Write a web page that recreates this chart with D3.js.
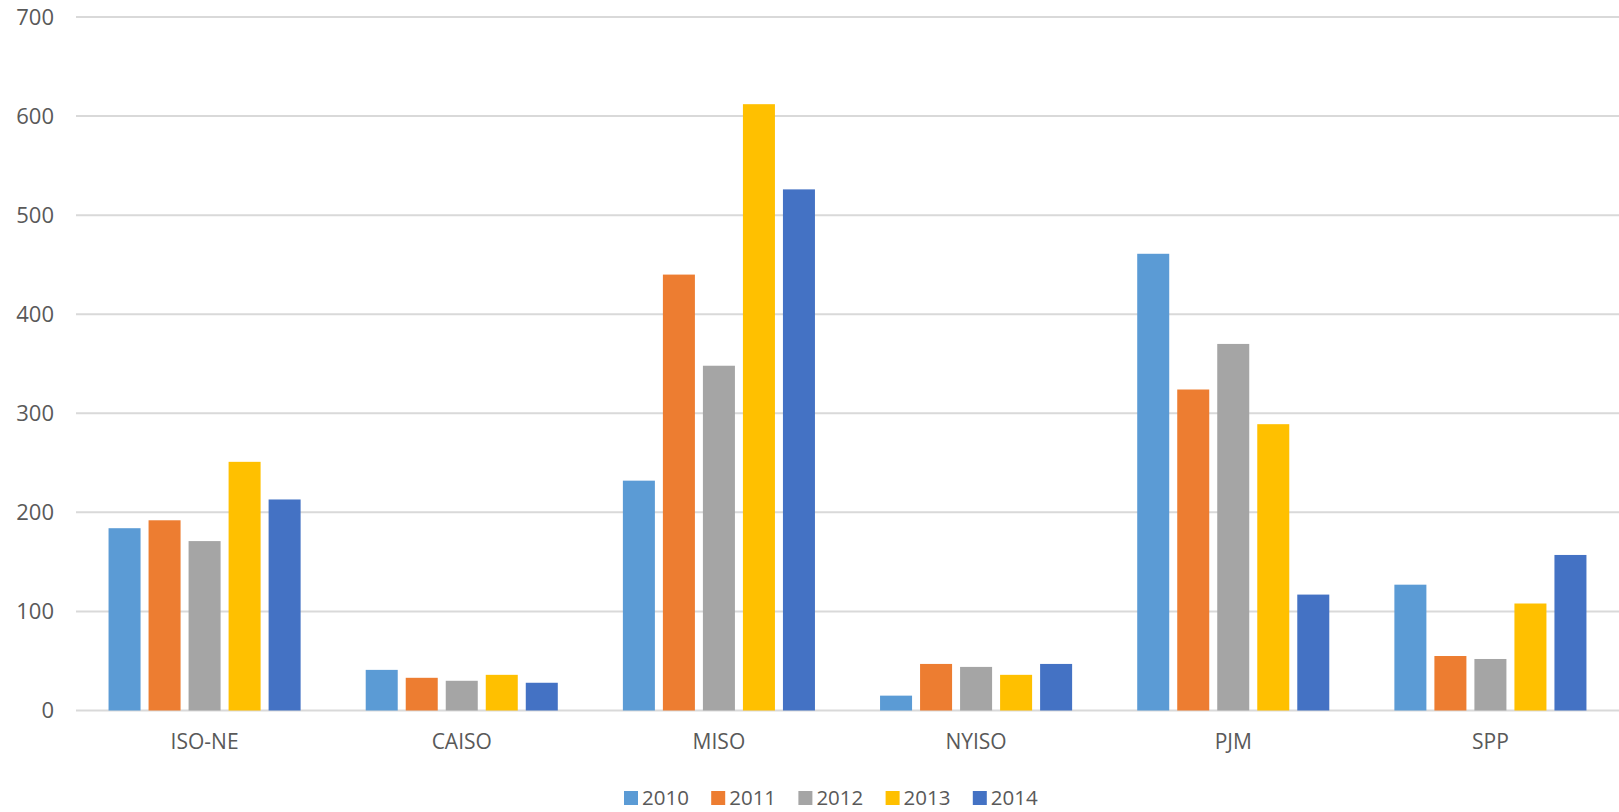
<!DOCTYPE html>
<html>
<head>
<meta charset="utf-8">
<script src="https://cdn.jsdelivr.net/npm/d3@7"></script>
<style>
  body { margin: 0; background: #fff; }
  text { font-family: "Open Sans", sans-serif; fill: #595959; }
</style>
</head>
<body>
<div id="chart"></div>
<script>
// Catégories et séries
const regions = ['ISO-NE', 'CAISO', 'MISO', 'NYISO', 'PJM', 'SPP'];
const years = ['2010', '2011', '2012', '2013', '2014'];
const values2010 = [184, 41, 232, 15, 461, 127];
const values2011 = [192, 33, 440, 47, 324, 55];
const values2012 = [171, 30, 348, 44, 370, 52];
const values2013 = [251, 36, 612, 36, 289, 108];
const values2014 = [213, 28, 526, 47, 117, 157];
const yTicks = [0, 100, 200, 300, 400, 500, 600, 700];
const colors = ['#5B9BD5', '#ED7D31', '#A5A5A5', '#FFC000', '#4472C4'];

const series = [values2010, values2011, values2012, values2013, values2014];
const data = regions.map((r, i) => ({
    region: r,
    vals: years.map((y, j) => ({ year: y, value: series[j][i] }))
}));

const width = 1619;
const height = 812;

const svg = d3.select('#chart')
    .append('svg')
    .attr('width', width)
    .attr('height', height);

const plotLeft = 76, plotRight = 1619, plotTop = 17, plotBottom = 710.5;

const y = d3.scaleLinear().domain([0, 700]).range([plotBottom, plotTop]);

const x0 = d3.scaleBand()
    .domain(regions)
    .range([plotLeft, plotRight])
    .paddingInner(0.222)
    .paddingOuter(0.111);

const x1 = d3.scaleBand()
    .domain(years)
    .range([0, x0.bandwidth()])
    .paddingInner(0.2)
    .paddingOuter(0.1);

const color = d3.scaleOrdinal().domain(years).range(colors);

// Lignes de la grille
svg.append('g')
    .selectAll('line')
    .data(yTicks)
    .enter().append('line')
    .attr('x1', plotLeft)
    .attr('x2', plotRight)
    .attr('y1', d => y(d))
    .attr('y2', d => y(d))
    .attr('stroke', '#d9d9d9')
    .attr('stroke-width', 2);

// Étiquettes de l'axe Y
svg.append('g')
    .selectAll('text')
    .data(yTicks)
    .enter().append('text')
    .attr('x', 54)
    .attr('y', d => y(d))
    .attr('dy', '0.35em')
    .attr('text-anchor', 'end')
    .style('font-size', '22px')
    .text(d => d);

// Barres
svg.append('g')
    .selectAll('g')
    .data(data)
    .enter().append('g')
    .attr('transform', d => `translate(${x0(d.region)},0)`)
    .selectAll('rect')
    .data(d => d.vals)
    .enter().append('rect')
    .attr('x', d => x1(d.year))
    .attr('width', x1.bandwidth())
    .attr('y', d => y(d.value))
    .attr('height', d => y(0) - y(d.value))
    .attr('fill', d => color(d.year));

// Étiquettes des catégories
svg.append('g')
    .selectAll('text')
    .data(regions)
    .enter().append('text')
    .attr('x', d => x0(d) + x0.bandwidth() / 2)
    .attr('y', 742)
    .attr('dy', '0.35em')
    .attr('text-anchor', 'middle')
    .style('font-size', '21px')
    .text(d => d);

// Légende
const legend = svg.append('g')
    .selectAll('g')
    .data(years)
    .enter().append('g')
    .attr('transform', (d, i) => `translate(${624 + i * 87.2},0)`);

legend.append('rect')
    .attr('x', 0)
    .attr('y', 791)
    .attr('width', 14)
    .attr('height', 14)
    .attr('fill', d => color(d));

legend.append('text')
    .attr('x', 18)
    .attr('y', 798)
    .attr('dy', '0.35em')
    .style('font-size', '20.5px')
    .text(d => d);
</script>
</body>
</html>
